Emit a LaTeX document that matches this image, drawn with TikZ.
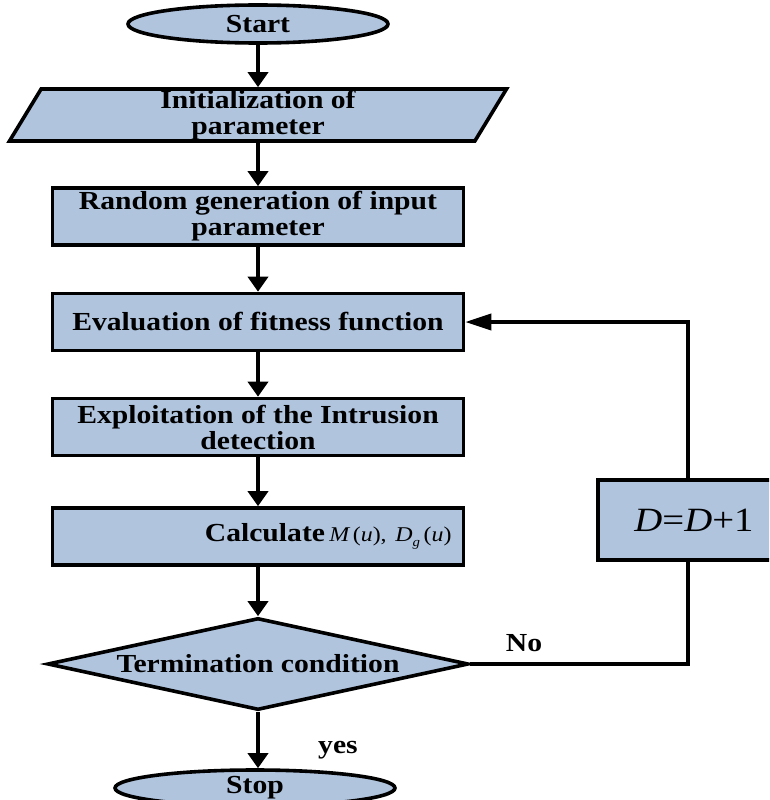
\documentclass[tikz,border=0pt]{standalone}
\usepackage{fontspec}
\setmainfont{Liberation Serif}[FakeStretch=1.14]
\usetikzlibrary{shapes.geometric,arrows.meta}
\definecolor{boxblue}{RGB}{176,196,222}
\begin{document}
\begin{tikzpicture}[x=1pt,y=-1pt,line width=3.6pt,line join=miter,
  txt/.style={font=\bfseries\fontsize{26}{26}\selectfont},
  box/.style={txt,draw,fill=boxblue,minimum width=411pt,minimum height=57pt,inner sep=0pt,align=center},
  termnode/.style={txt,ellipse,draw,fill=boxblue,inner sep=0pt},
  paranode/.style={txt,trapezium,trapezium left angle=57.6,trapezium right angle=122.4,trapezium stretches body,draw,fill=boxblue,minimum width=497pt,minimum height=52pt,inner sep=0pt,align=center},
  decnode/.style={diamond,draw,fill=boxblue,minimum width=421pt,minimum height=92pt,inner sep=0pt},
  arr/.style={-{Triangle[length=15pt,width=20pt]}},
  harr/.style={-{Triangle[length=26pt,width=16pt]}}]
\useasboundingbox (0,0) rectangle (769,800);
\clip (0,0) rectangle (769,800);
\fill[white] (0,0) rectangle (769,800);

\node[termnode,minimum width=260pt,minimum height=38pt] (start) at (258,24) {Start};
\node[paranode] (init) at (258,115) {Initialization of\\parameter};
\node[box] (rand) at (258,216.5) {Random generation of input\\parameter};
\node[box] (eval) at (258,322) {Evaluation of fitness function};
\node[box] (expl) at (258,427) {Exploitation of the Intrusion\\detection};
\node[box,text width=387pt,align=right,inner xsep=12pt] (calc) at (258,536.5)
  {Calculate\,{\fontsize{21}{22}\selectfont\mdseries\itshape M\upshape\,(\itshape u\upshape), \itshape D\raisebox{-5pt}{\fontsize{13}{13}\selectfont g}\upshape\,(\itshape u\upshape)}};
\node[decnode] (term) at (258,664) {};
\node[txt] (termt) at (term) {Termination condition};
\node[termnode,minimum width=280pt,minimum height=36pt] (stop) at (255,788) {Stop};
\node[box,minimum width=192pt,minimum height=80pt,font=\mdseries\fontsize{34}{34}\selectfont] (inc) at (694,520)
  {\textit{D}=\textit{D}+1};
\node[txt] (no) at (524,643) {No};
\node[txt] (yes) at (338,750) {yes};

\coordinate (lp) at (688,322);
\draw[arr] (start.south) -- (init.north);
\draw[arr] (init.south) -- (rand.north);
\draw[arr] (rand.south) -- (eval.north);
\draw[arr] (eval.south) -- (expl.north);
\draw[arr] (expl.south) -- (calc.north);
\draw[arr] (calc.south) -- (term.north);
\draw[arr] (term.south) -- (stop.north -| term.south);
\draw (term.east) -| (inc.south -| lp);
\draw[harr] (inc.north -| lp) -- (lp) -- (eval.east);
\end{tikzpicture}
\end{document}
